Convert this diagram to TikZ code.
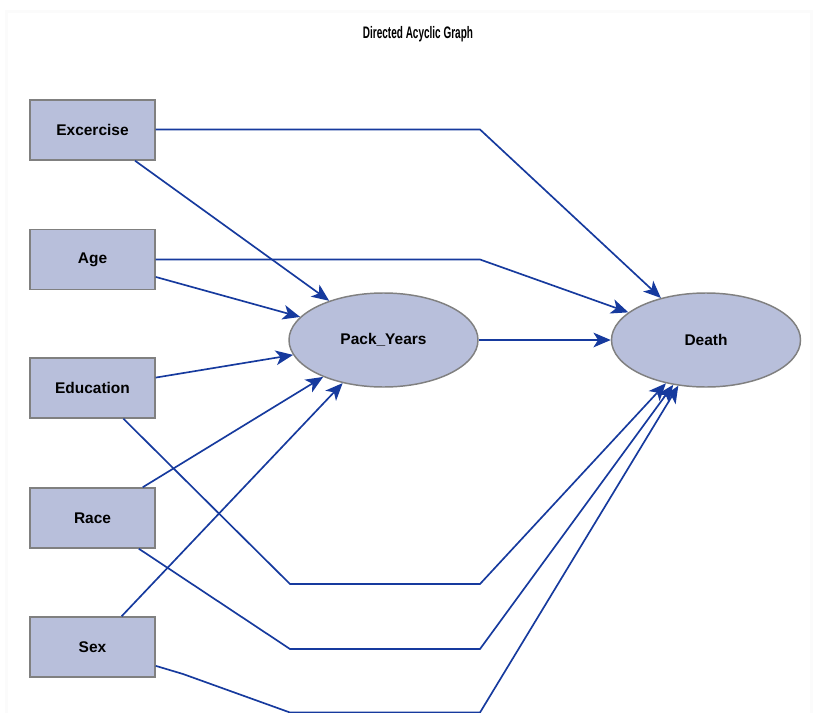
\documentclass[tikz,border=0pt]{standalone}
\usepackage{fontspec}
\setmainfont{Liberation Sans}
\newfontfamily\titlefont[FakeStretch=0.6]{Liberation Sans}
\usetikzlibrary{arrows.meta,shapes.geometric}
\definecolor{nodefill}{RGB}{184,191,219}
\definecolor{nodeline}{RGB}{128,128,128}
\definecolor{edgeblue}{RGB}{22,58,158}
\tikzset{
  varbox/.style={rectangle,draw=nodeline,fill=nodefill,line width=1.1pt,
    minimum width=93.75pt,minimum height=45pt,inner sep=0pt,
    font=\fontsize{11.6}{13}\selectfont\bfseries},
  varell/.style={ellipse,draw=nodeline,fill=nodefill,line width=1.1pt,
    minimum width=141.75pt,minimum height=70.5pt,inner sep=0pt,
    font=\fontsize{11.6}{13}\selectfont\bfseries},
  edge/.style={draw=edgeblue,line width=1.25pt,
    -{Stealth[length=13pt,width=11pt,inset=3.5pt]}},
}
\begin{document}
\begin{tikzpicture}[x=0.75pt,y=-0.75pt]
\useasboundingbox (0,0) rectangle (813,713);
\fill[white] (0,0) rectangle (813,713);
\fill[black!1.5] (5,10) rectangle (813,713);
\fill[white] (8,13) rectangle (810,713);
\node[font=\titlefont\fontsize{12.5}{14}\selectfont\bfseries] (title) at (418,34) {Directed Acyclic Graph};

\node[varbox] (exc) at (92.5,130) {Excercise};
\node[varbox] (age) at (92.5,259.5) {Age};
\node[varbox] (edu) at (92.5,388) {Education};
\node[varbox] (race) at (92.5,518) {Race};
\node[varbox] (sex) at (92.5,647) {Sex};
\node[varell] (py) at (383.5,340) {Pack\_Years};
\node[varell] (death) at (706,340) {Death};

\coordinate (e1) at (480,129.5);
\coordinate (a1) at (480,259.5);
\coordinate (d1) at (290,584);
\coordinate (d2) at (480,584);
\coordinate (r1) at (290,649);
\coordinate (r2) at (480,649);
\coordinate (s0) at (183,674);
\coordinate (s1) at (290,712.5);
\coordinate (s2) at (480,712.5);

\path[edge] (exc.east |- e1) -- (e1) -- (death);
\path[edge] (exc) -- (py);
\path[edge] (age.east |- a1) -- (a1) -- (death);
\path[edge] (age) -- (py);
\path[edge] (edu) -- (py);
\path[edge] (edu) -- (d1) -- (d2) -- (death);
\path[edge] (race) -- (py);
\path[edge] (race) -- (r1) -- (r2) -- (death);
\path[edge] (sex) -- (py);
\path[edge] (sex) -- (s0) -- (s1) -- (s2) -- (death);
\path[edge] (py) -- (death);
\end{tikzpicture}
\end{document}
